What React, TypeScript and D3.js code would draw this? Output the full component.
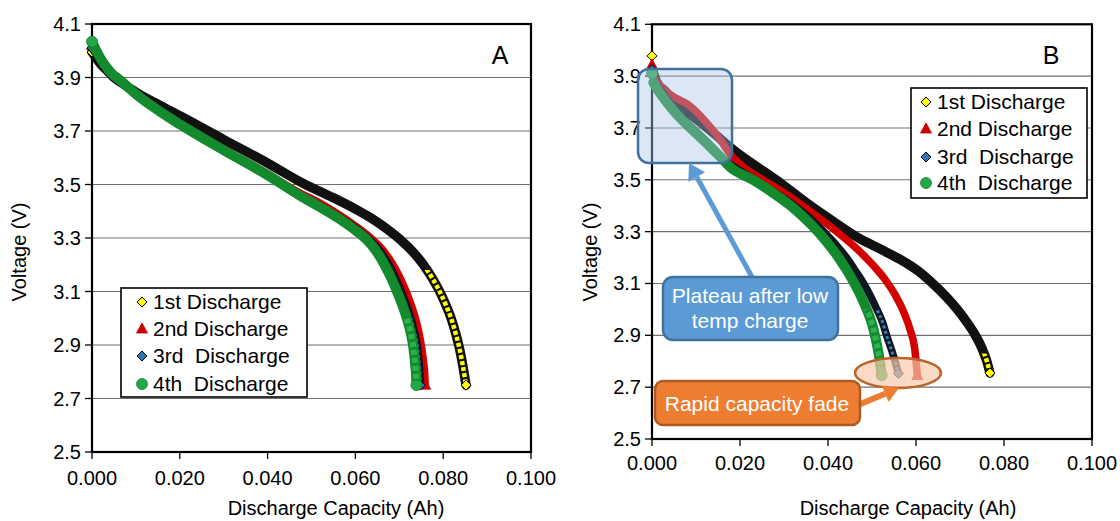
import React from "react";
import * as d3 from "d3";

type Pt = [number, number];

const seriesNames = ["1st Discharge", "2nd Discharge", "3rd  Discharge", "4th  Discharge"];
const xTickValues = [0, 0.02, 0.04, 0.06, 0.08, 0.1];
const yTickValues = [2.5, 2.7, 2.9, 3.1, 3.3, 3.5, 3.7, 3.9, 4.1];
const xTitle = "Discharge Capacity (Ah)";
const yTitle = "Voltage (V)";
const noteBlue = ["Plateau after low", "temp charge"];
const noteOrange = "Rapid capacity fade";

// Panel A: [capacity Ah, voltage V]
const a1st: Pt[] = [
  [0, 3.995], [0.001, 3.972], [0.002, 3.95], [0.0035, 3.925], [0.005, 3.9], [0.0075, 3.872],
  [0.01, 3.845], [0.015, 3.8], [0.02, 3.757], [0.03, 3.668], [0.04, 3.58], [0.048, 3.505],
  [0.055, 3.45], [0.06, 3.408], [0.064, 3.37], [0.0675, 3.33], [0.0705, 3.29], [0.073, 3.25],
  [0.0755, 3.2], [0.0775, 3.15], [0.0792, 3.1], [0.0806, 3.05], [0.0818, 3.0], [0.0829, 2.94],
  [0.0838, 2.88], [0.0845, 2.82], [0.0852, 2.75],
];
const a2nd: Pt[] = [
  [0, 4.02], [0.001, 3.99], [0.002, 3.962], [0.003, 3.938], [0.0045, 3.912], [0.0064, 3.887],
  [0.01, 3.838], [0.015, 3.78], [0.02, 3.728], [0.03, 3.632], [0.04, 3.54], [0.0474, 3.468],
  [0.052, 3.43], [0.056, 3.39], [0.06, 3.345], [0.0635, 3.3], [0.066, 3.26], [0.0682, 3.21],
  [0.0699, 3.16], [0.0713, 3.11], [0.0725, 3.06], [0.0735, 3.01], [0.0743, 2.96], [0.075, 2.9],
  [0.0755, 2.84], [0.0758, 2.79], [0.0759, 2.75],
];
const a3rd: Pt[] = [
  [0, 4.01], [0.001, 3.985], [0.002, 3.96], [0.003, 3.937], [0.0045, 3.91], [0.0064, 3.887],
  [0.01, 3.836], [0.015, 3.778], [0.02, 3.726], [0.03, 3.63], [0.04, 3.537], [0.0474, 3.462],
  [0.052, 3.42], [0.056, 3.382], [0.0598, 3.34], [0.063, 3.297], [0.0656, 3.252], [0.0676, 3.202],
  [0.0691, 3.152], [0.0704, 3.102], [0.0716, 3.052], [0.0726, 3.002], [0.0734, 2.952],
  [0.0741, 2.895], [0.0745, 2.835], [0.0747, 2.79], [0.0748, 2.75],
];
const a4th: Pt[] = [
  [0, 4.034], [0.001, 4.0], [0.002, 3.97], [0.003, 3.945], [0.0045, 3.915], [0.0064, 3.89],
  [0.01, 3.838], [0.015, 3.778], [0.02, 3.725], [0.03, 3.628], [0.04, 3.535], [0.0474, 3.458],
  [0.052, 3.415], [0.056, 3.375], [0.0595, 3.335], [0.0625, 3.295], [0.065, 3.245], [0.0668, 3.195],
  [0.0683, 3.145], [0.0696, 3.095], [0.0708, 3.045], [0.0718, 2.995], [0.0726, 2.945],
  [0.0732, 2.89], [0.0736, 2.83], [0.0738, 2.79], [0.0739, 2.75],
];

// Panel B
const b1st: Pt[] = [
  [0, 3.978], [0.0003, 3.915], [0.001, 3.88], [0.003, 3.842], [0.006, 3.79], [0.01, 3.735],
  [0.014, 3.68], [0.0185, 3.615], [0.0283, 3.499], [0.036, 3.4], [0.042, 3.33], [0.047, 3.275],
  [0.052, 3.232], [0.0565, 3.192], [0.0605, 3.148], [0.0638, 3.1], [0.0668, 3.05], [0.0694, 3.0],
  [0.0716, 2.95], [0.0735, 2.9], [0.075, 2.85], [0.0761, 2.8], [0.0768, 2.755],
];
const b2nd: Pt[] = [
  [0, 3.943], [0.0004, 3.895], [0.0015, 3.868], [0.004, 3.83], [0.0086, 3.785], [0.0124, 3.72],
  [0.0155, 3.655], [0.0177, 3.6], [0.0215, 3.54], [0.0253, 3.499], [0.03, 3.45], [0.036, 3.378],
  [0.042, 3.3], [0.0465, 3.235], [0.05, 3.175], [0.053, 3.115], [0.0553, 3.055], [0.0572, 2.99],
  [0.0587, 2.92], [0.0597, 2.85], [0.0603, 2.745],
];
const b3rd: Pt[] = [
  [0, 3.925], [0.0004, 3.88], [0.002, 3.845], [0.0048, 3.78], [0.0124, 3.648], [0.017, 3.57],
  [0.023, 3.505], [0.028, 3.45], [0.032, 3.405], [0.0357, 3.355], [0.039, 3.3], [0.0418, 3.25],
  [0.0442, 3.2], [0.0462, 3.15], [0.0481, 3.1], [0.0497, 3.05], [0.0511, 3.0], [0.0524, 2.95],
  [0.0535, 2.89], [0.0547, 2.83], [0.056, 2.753],
];
const b4th: Pt[] = [
  [0, 3.911], [0.0003, 3.875], [0.002, 3.83], [0.0048, 3.769], [0.0124, 3.641], [0.0155, 3.589],
  [0.0177, 3.55], [0.023, 3.499], [0.0275, 3.45], [0.0315, 3.4], [0.0348, 3.35], [0.0377, 3.3],
  [0.0402, 3.25], [0.0424, 3.2], [0.0443, 3.15], [0.046, 3.1], [0.0475, 3.05], [0.0488, 3.0],
  [0.0499, 2.95], [0.0508, 2.89], [0.0515, 2.83], [0.0522, 2.746],
];

const FONT = "'Liberation Sans', Arial, Helvetica, sans-serif";

const seriesStyle = [
  { stroke: "#111111", width: 9.5, tail: "#ffff00", tailWidth: 4.5, dash: "4 2.2", marker: "diamondY" },
  { stroke: "#d40000", width: 7.5, tail: null as string | null, tailWidth: 0, dash: "", marker: "triangle" },
  { stroke: "#0e1620", width: 7.5, tail: "#3d7cc0", tailWidth: 3, dash: "3 2.5", marker: "diamondB" },
  { stroke: "#138a2e", width: 10, tail: "#2db04e", tailWidth: 6, dash: "5 3", marker: "circle" },
];

function Marker({ kind, x, y }: { kind: string; x: number; y: number }) {
  if (kind === "diamondY" || kind === "diamondB") {
    const s = 5;
    return (
      <path
        d={`M${x},${y - s}L${x + s},${y}L${x},${y + s}L${x - s},${y}Z`}
        fill={kind === "diamondY" ? "#ffff00" : "#2e75b6"}
        stroke="#000"
        strokeWidth={1}
      />
    );
  }
  if (kind === "triangle") {
    return <path d={`M${x},${y - 6}L${x + 5.5},${y + 4}L${x - 5.5},${y + 4}Z`} fill="#d00000" stroke="#b00000" strokeWidth={0.8} />;
  }
  return <circle cx={x} cy={y} r={5.5} fill="#22a845" stroke="#1a7f34" strokeWidth={0.8} />;
}

type PanelCfg = {
  id: string;
  x0: number; x1: number; y0: number; y1: number;
  data: Pt[][];
  tails: (number | null)[];
  detachFirst: boolean;
  label: string; labelX: number; labelY: number;
  legend: { x: number; y: number; w: number; h: number; mx: number; tx: number; rows: number[] };
  xLabelDy: number;
  xTitlePos: [number, number];
  yTitlePos: [number, number];
};

function Arrow({ x1, y1, x2, y2, color, w, head }: { x1: number; y1: number; x2: number; y2: number; color: string; w: number; head: number }) {
  const dx = x2 - x1, dy = y2 - y1;
  const L = Math.hypot(dx, dy);
  const ux = dx / L, uy = dy / L;
  const bx = x2 - ux * head, by = y2 - uy * head;
  const px = -uy, py = ux;
  const hw = head * 0.6;
  return (
    <g>
      <line x1={x1} y1={y1} x2={bx} y2={by} stroke={color} strokeWidth={w} />
      <path d={`M${x2},${y2}L${bx + px * hw},${by + py * hw}L${bx - px * hw},${by - py * hw}Z`} fill={color} />
    </g>
  );
}

function Panel({ cfg }: { cfg: PanelCfg }) {
  const x = d3.scaleLinear().domain([0, 0.1]).range([cfg.x0, cfg.x1]);
  const y = d3.scaleLinear().domain([2.5, 4.1]).range([cfg.y0, cfg.y1]);
  const line = d3
    .line<Pt>()
    .x((d) => x(d[0]))
    .y((d) => y(d[1]))
    .curve(d3.curveMonotoneX);

  return (
    <g fontFamily={FONT}>
      {yTickValues.map((v) => (
        <line key={"g" + v} x1={cfg.x0} x2={cfg.x1} y1={y(v)} y2={y(v)} stroke="#707070" strokeWidth={1.1} />
      ))}
      {yTickValues.map((v) => (
        <line key={"yt" + v} x1={cfg.x0 - 7} x2={cfg.x0} y1={y(v)} y2={y(v)} stroke="#000" strokeWidth={1.3} />
      ))}
      {xTickValues.map((v) => (
        <line key={"xt" + v} x1={x(v)} x2={x(v)} y1={cfg.y0} y2={cfg.y0 + 7} stroke="#000" strokeWidth={1.3} />
      ))}
      {yTickValues.map((v) => (
        <text key={"yl" + v} x={cfg.x0 - 11} y={y(v)} dy="0.35em" textAnchor="end" fontSize={20} fill="#000">
          {v.toFixed(1)}
        </text>
      ))}
      {xTickValues.map((v) => (
        <text key={"xl" + v} x={x(v)} y={cfg.y0 + cfg.xLabelDy} dy="0.35em" textAnchor="middle" fontSize={20} fill="#000">
          {v.toFixed(3)}
        </text>
      ))}
      <rect x={cfg.x0} y={cfg.y1} width={cfg.x1 - cfg.x0} height={cfg.y0 - cfg.y1} fill="none" stroke="#000" strokeWidth={2.2} />
      <text x={cfg.xTitlePos[0]} y={cfg.xTitlePos[1]} dy="0.35em" textAnchor="middle" fontSize={20}>
        {xTitle}
      </text>
      <text
        transform={`translate(${cfg.yTitlePos[0]},${cfg.yTitlePos[1]}) rotate(-90)`}
        dy="0.35em"
        textAnchor="middle"
        fontSize={20}
      >
        {yTitle}
      </text>
      <defs>
        {cfg.tails.map((t, i) =>
          t === null ? null : (
            <clipPath id={`${cfg.id}-tail-${i}`} key={i}>
              <rect x={cfg.x0 - 20} y={y(t)} width={cfg.x1 - cfg.x0 + 40} height={cfg.y0 - y(t) + 20} />
            </clipPath>
          )
        )}
      </defs>
      {cfg.data.map((pts, i) => {
        const st = seriesStyle[i];
        const body = cfg.detachFirst ? pts.slice(1) : pts;
        const d = line(body) || "";
        const t = cfg.tails[i];
        return (
          <g key={"s" + i}>
            <path d={d} fill="none" stroke={st.stroke} strokeWidth={st.width} strokeLinejoin="round" strokeLinecap="round" />
            {st.tail && t !== null ? (
              <path
                d={d}
                fill="none"
                stroke={st.tail}
                strokeWidth={st.tailWidth}
                strokeDasharray={st.dash}
                clipPath={`url(#${cfg.id}-tail-${i})`}
              />
            ) : null}
            <Marker kind={st.marker} x={x(pts[0][0])} y={y(pts[0][1])} />
            <Marker kind={st.marker} x={x(pts[pts.length - 1][0])} y={y(pts[pts.length - 1][1])} />
          </g>
        );
      })}
      <text x={cfg.labelX} y={cfg.labelY} dy="0.35em" textAnchor="middle" fontSize={25}>
        {cfg.label}
      </text>
      <rect x={cfg.legend.x} y={cfg.legend.y} width={cfg.legend.w} height={cfg.legend.h} fill="#fff" stroke="#000" strokeWidth={1.6} />
      {seriesNames.map((n, i) => (
        <g key={"lg" + i}>
          <Marker kind={seriesStyle[i].marker} x={cfg.legend.x + cfg.legend.mx} y={cfg.legend.y + cfg.legend.rows[i]} />
          <text
            x={cfg.legend.x + cfg.legend.tx}
            y={cfg.legend.y + cfg.legend.rows[i]}
            dy="0.35em"
            fontSize={21}
            style={{ whiteSpace: "pre" }}
          >
            {n}
          </text>
        </g>
      ))}
    </g>
  );
}

const panelA: PanelCfg = {
  id: "pa",
  x0: 92, x1: 531, y0: 452, y1: 24,
  data: [a1st, a2nd, a3rd, a4th],
  tails: [3.18, null, 3.0, 3.0],
  detachFirst: false,
  label: "A", labelX: 500, labelY: 55,
  legend: { x: 121, y: 288, w: 186, h: 109, mx: 21, tx: 32, rows: [14, 41, 68, 96] },
  xLabelDy: 26,
  xTitlePos: [336, 508],
  yTitlePos: [19, 252],
};

const panelB: PanelCfg = {
  id: "pb",
  x0: 652, x1: 1092, y0: 439, y1: 24.3,
  data: [b1st, b2nd, b3rd, b4th],
  tails: [2.83, null, 3.0, 3.0],
  detachFirst: true,
  label: "B", labelX: 1051, labelY: 55,
  legend: { x: 911, y: 88, w: 176, h: 110, mx: 15, tx: 26, rows: [14, 41, 69, 95] },
  xLabelDy: 24,
  xTitlePos: [908, 508],
  yTitlePos: [590, 252],
};

export default function App() {
  return (
    <svg
      width={1120}
      height={521}
      viewBox="0 0 1120 521"
      style={{ position: "absolute", left: 0, top: 0, background: "#fff" }}
    >
      <rect x={0} y={0} width={1120} height={521} fill="#fff" />
      <Panel cfg={panelA} />
      <Panel cfg={panelB} />
      <g fontFamily={FONT}>
        <rect x={638} y={69} width={94} height={94} rx={11} fill="#a9c6e8" fillOpacity={0.42} stroke="#41719c" strokeWidth={2.5} />
        <Arrow x1={752} y1={277} x2={689} y2={163} color="#5b9bd5" w={5} head={16} />
        <rect x={663} y={277} width={175} height={63} rx={10} fill="#5b9bd5" stroke="#41719c" strokeWidth={2.5} />
        <text x={750} y={296} dy="0.35em" textAnchor="middle" fontSize={21} fill="#fff">
          {noteBlue[0]}
        </text>
        <text x={750} y={321} dy="0.35em" textAnchor="middle" fontSize={21} fill="#fff">
          {noteBlue[1]}
        </text>
        <ellipse cx={898} cy={373} rx={43} ry={15} fill="#f8cbad" fillOpacity={0.7} stroke="#b86429" strokeWidth={2.5} />
        <Arrow x1={858} y1={405} x2={899} y2={388} color="#ed7d31" w={6} head={15} />
        <rect x={655} y={381} width={205} height={44} rx={8} fill="#ed7d31" stroke="#ae5a21" strokeWidth={2.5} />
        <text x={757} y={404} dy="0.35em" textAnchor="middle" fontSize={21} fill="#fff">
          {noteOrange}
        </text>
      </g>
    </svg>
  );
}
